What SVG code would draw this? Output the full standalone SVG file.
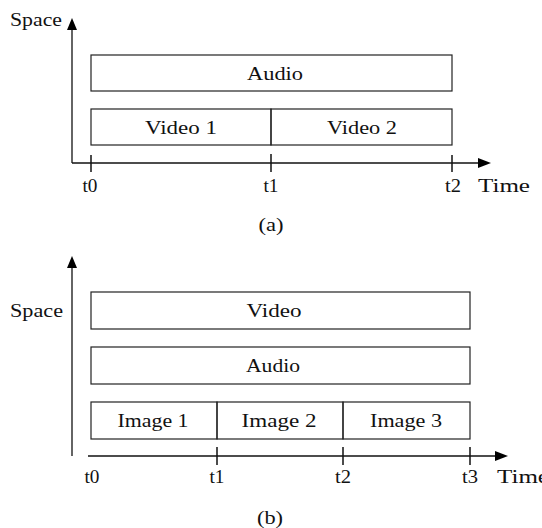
<svg xmlns="http://www.w3.org/2000/svg" width="542" height="528" viewBox="0 0 542 528">
<style>
text{font-family:"Liberation Serif","Times New Roman",serif;font-size:19px;fill:#111}
.c{text-anchor:middle}
.box{fill:none;stroke:#222;stroke-width:1.2}
.ax{stroke:#111;stroke-width:1.3;fill:none}
.tk{stroke:#111;stroke-width:1.5}
.ah{fill:#000}
</style>
<rect width="542" height="528" fill="#fff"/>
<g id="connectors">
<line class="ax" x1="72" y1="163" x2="72" y2="28"/>
<polygon class="ah" points="72,18 67,30 77,30"/>
<line class="ax" x1="72" y1="163" x2="480" y2="163"/>
<polygon class="ah" points="491,163 478,158 478,168"/>
<line class="tk" x1="91" y1="155" x2="91" y2="172"/>
<line class="tk" x1="271" y1="154" x2="271" y2="172"/>
<line class="tk" x1="452" y1="155" x2="452" y2="172"/>
<line class="ax" x1="72" y1="456" x2="72" y2="266"/>
<polygon class="ah" points="72,256 67,268 77,268"/>
<line class="ax" x1="88" y1="456" x2="497" y2="456"/>
<polygon class="ah" points="508,456 495,451 495,461"/>
<line class="tk" x1="217" y1="447" x2="217" y2="465"/>
<line class="tk" x1="343" y1="447" x2="343" y2="465"/>
<line class="tk" x1="470" y1="447" x2="470" y2="465"/>
</g>
<g id="labels-a">
<text x="10" y="26" textLength="52" lengthAdjust="spacingAndGlyphs">Space</text>
<text class="c" x="90" y="192" textLength="15" lengthAdjust="spacingAndGlyphs">t0</text>
<text class="c" x="271" y="192" textLength="15" lengthAdjust="spacingAndGlyphs">t1</text>
<text class="c" x="453" y="192" textLength="16" lengthAdjust="spacingAndGlyphs">t2</text>
<text x="478" y="192" textLength="52" lengthAdjust="spacingAndGlyphs">Time</text>
<text class="c" x="271" y="231" textLength="25" lengthAdjust="spacingAndGlyphs">(a)</text>
</g>
<g id="audio-a">
<rect class="box" x="91" y="55" width="361" height="36"/>
<text class="c" x="275" y="80" textLength="56" lengthAdjust="spacingAndGlyphs">Audio</text>
</g>
<g id="video1-a">
<rect class="box" x="91" y="109" width="180" height="36"/>
<text class="c" x="181" y="134" textLength="72" lengthAdjust="spacingAndGlyphs">Video 1</text>
</g>
<g id="video2-a">
<rect class="box" x="271" y="109" width="181" height="36"/>
<text class="c" x="362" y="134" textLength="70" lengthAdjust="spacingAndGlyphs">Video 2</text>
</g>
<g id="labels-b">
<text x="10" y="317" textLength="53" lengthAdjust="spacingAndGlyphs">Space</text>
<text class="c" x="92" y="483" textLength="15" lengthAdjust="spacingAndGlyphs">t0</text>
<text class="c" x="217" y="483" textLength="15" lengthAdjust="spacingAndGlyphs">t1</text>
<text class="c" x="343" y="483" textLength="16" lengthAdjust="spacingAndGlyphs">t2</text>
<text class="c" x="470" y="483" textLength="16" lengthAdjust="spacingAndGlyphs">t3</text>
<text x="497" y="483" textLength="52" lengthAdjust="spacingAndGlyphs">Time</text>
<text class="c" x="270" y="524" textLength="26" lengthAdjust="spacingAndGlyphs">(b)</text>
</g>
<g id="video-b">
<rect class="box" x="91" y="292" width="379" height="37"/>
<text class="c" x="274" y="317" textLength="55" lengthAdjust="spacingAndGlyphs">Video</text>
</g>
<g id="audio-b">
<rect class="box" x="91" y="347" width="379" height="37"/>
<text class="c" x="273" y="372" textLength="54" lengthAdjust="spacingAndGlyphs">Audio</text>
</g>
<g id="image1-b">
<rect class="box" x="91" y="402" width="126" height="37"/>
<text class="c" x="153" y="427" textLength="71" lengthAdjust="spacingAndGlyphs">Image 1</text>
</g>
<g id="image2-b">
<rect class="box" x="217" y="402" width="126" height="37"/>
<text class="c" x="279" y="427" textLength="75" lengthAdjust="spacingAndGlyphs">Image 2</text>
</g>
<g id="image3-b">
<rect class="box" x="343" y="402" width="127" height="37"/>
<text class="c" x="406" y="427" textLength="72" lengthAdjust="spacingAndGlyphs">Image 3</text>
</g>
</svg>
